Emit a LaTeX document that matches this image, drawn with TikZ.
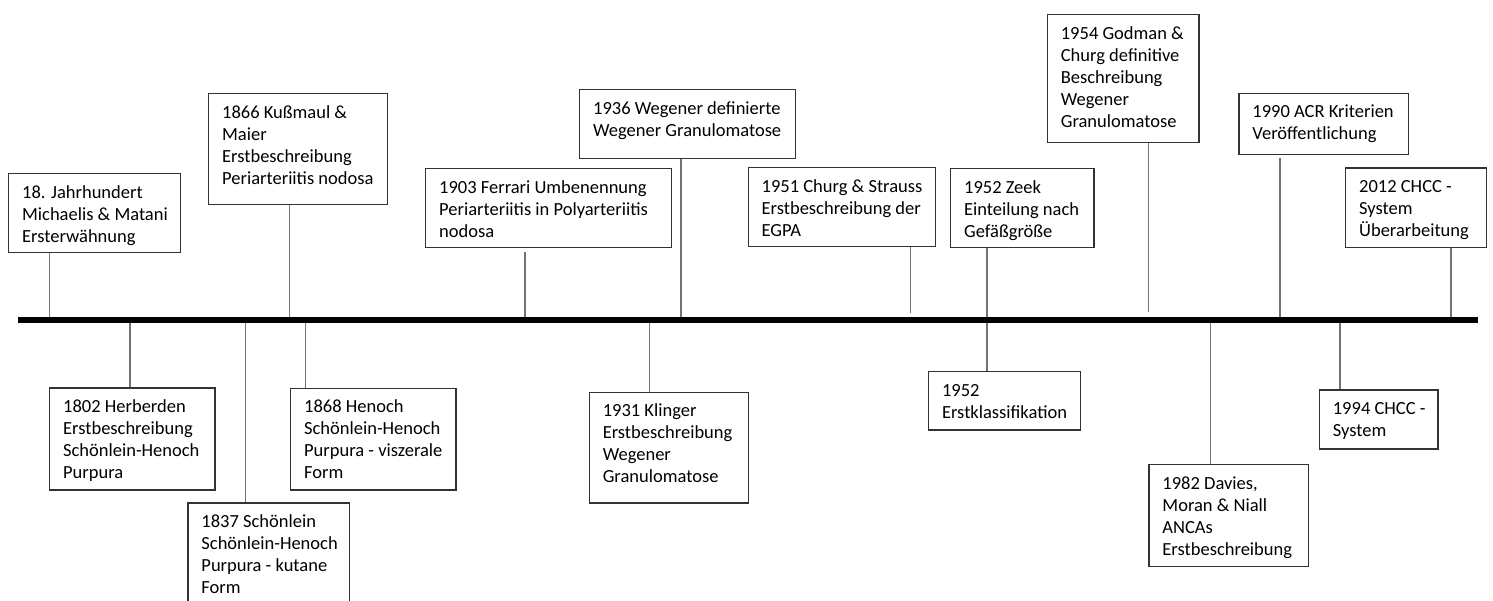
\documentclass[tikz,border=0pt]{standalone}
\usepackage{fontspec}
\setmainfont{Carlito}
\newcommand\evtext[3]{\makebox[#1pt][l]{\hspace*{13.5pt}\parbox[t][#2pt][t]{\dimexpr#1pt-16pt\relax}{\rule{0pt}{24.5pt}#3}}}
\begin{document}
\begin{tikzpicture}[x=1pt,y=-1pt,
  evbox/.style={draw=black!80, line width=1.3pt, inner sep=0pt, anchor=north west,
    font=\fontsize{18.5}{22}\selectfont},
  conn/.style={draw=black!55, line width=1.3pt},
  timeline/.style={draw=black, line width=6pt}]
\clip (0,0) rectangle (1493,601);
\fill[white] (0,0) rectangle (1493,601);

% upper events
\node[evbox, minimum width=172pt] (b1) at (8,173) {\evtext{172}{79}{18. Jahrhundert\\Michaelis \& Matani\\Ersterwähnung}};
\node[evbox, minimum width=179pt] (b2) at (208,93) {\evtext{179}{111}{1866 Kußmaul \&\\Maier\\Erstbeschreibung\\Periarteriitis nodosa}};
\node[evbox, minimum width=246pt] (b3) at (425,168) {\evtext{246}{79}{1903 Ferrari Umbenennung\\Periarteriitis in Polyarteriitis\\nodosa}};
\node[evbox, minimum width=216pt] (b4) at (579,89) {\evtext{216}{69}{1936 Wegener definierte\\Wegener Granulomatose}};
\node[evbox, minimum width=187pt] (b5) at (747.5,167) {\evtext{187}{79}{1951 Churg \& Strauss\\Erstbeschreibung der\\EGPA}};
\node[evbox, minimum width=143.3pt] (b6) at (950,168) {\evtext{143.3}{79}{1952 Zeek\\Einteilung nach\\Gefäßgröße}};
\node[evbox, minimum width=151.6pt] (b7) at (1046.7,14) {\evtext{151.6}{128}{1954 Godman \&\\Churg definitive\\Beschreibung\\Wegener\\Granulomatose}};
\node[evbox, minimum width=169.4pt] (b8) at (1238.3,92.7) {\evtext{169.4}{61.3}{1990 ACR Kriterien\\Veröffentlichung}};
\node[evbox, minimum width=140.7pt] (b9) at (1345,167.3) {\evtext{140.7}{79.4}{2012 CHCC -\\System\\Überarbeitung}};

% lower events
\node[evbox, minimum width=165.3pt] (b10) at (49,387.3) {\evtext{165.3}{102}{1802 Herberden\\Erstbeschreibung\\Schönlein-Henoch\\Purpura}};
\node[evbox, minimum width=161.7pt] (b11) at (187.3,502.3) {\evtext{161.7}{102}{1837 Schönlein\\Schönlein-Henoch\\Purpura - kutane\\Form}};
\node[evbox, minimum width=165.3pt] (b12) at (290,387.7) {\evtext{165.3}{101.6}{1868 Henoch\\Schönlein-Henoch\\Purpura - viszerale\\Form}};
\node[evbox, minimum width=158.9pt] (b13) at (588.6,391.7) {\evtext{158.9}{110.6}{1931 Klinger\\Erstbeschreibung\\Wegener\\Granulomatose}};
\node[evbox, minimum width=151.7pt] (b14) at (927.9,371) {\evtext{151.7}{58.3}{1952\\Erstklassifikation}};
\node[evbox, minimum width=159.4pt] (b15) at (1148.3,464) {\evtext{159.4}{101.7}{1982 Davies,\\Moran \& Niall\\ANCAs\\Erstbeschreibung}};
\node[evbox, minimum width=118.6pt] (b16) at (1318.7,389.3) {\evtext{118.6}{59}{1994 CHCC -\\System}};

% connector ends on the timeline
\coordinate (t1) at (49.3,318);
\coordinate (t2) at (289.3,318);
\coordinate (t3) at (525,318);
\coordinate (t4) at (681,318);
\coordinate (t5) at (910.7,313);
\coordinate (t6) at (987,318);
\coordinate (t7) at (1148.7,311.7);
\coordinate (t8) at (1280,318);
\coordinate (t9) at (1451,318);
\coordinate (u10) at (130,323);
\coordinate (u11) at (245.7,323);
\coordinate (u12) at (305.7,323);
\coordinate (u13) at (649.3,323);
\coordinate (u14) at (987,323);
\coordinate (u15) at (1210.3,323);
\coordinate (u16) at (1340,323);

\draw[conn] (b1.south -| t1) -- (t1);
\draw[conn] (b2.south -| t2) -- (t2);
\draw[conn] ([yshift=-3.5pt]b3.south -| t3) -- (t3);
\draw[conn] (b4.south -| t4) -- (t4);
\draw[conn] (b5.south -| t5) -- (t5);
\draw[conn] (b6.south -| t6) -- (t6);
\draw[conn] (b7.south -| t7) -- (t7);
\draw[conn] ([yshift=-2.5pt]b8.south -| t8) -- (t8);
\draw[conn] (b9.south -| t9) -- (t9);
\draw[conn] (u10) -- (u10 |- b10.north);
\draw[conn] (u11) -- (u11 |- b11.north);
\draw[conn] (u12) -- (u12 |- b12.north);
\draw[conn] (u13) -- (u13 |- b13.north);
\draw[conn] (u14) -- (u14 |- b14.north);
\draw[conn] (u15) -- (u15 |- b15.north);
\draw[conn] (u16) -- (u16 |- b16.north);

% timeline
\coordinate (tlL) at (18,320.5);
\coordinate (tlR) at (1477.7,320.5);
\draw[timeline] (tlL) -- (tlR);
\end{tikzpicture}
\end{document}
